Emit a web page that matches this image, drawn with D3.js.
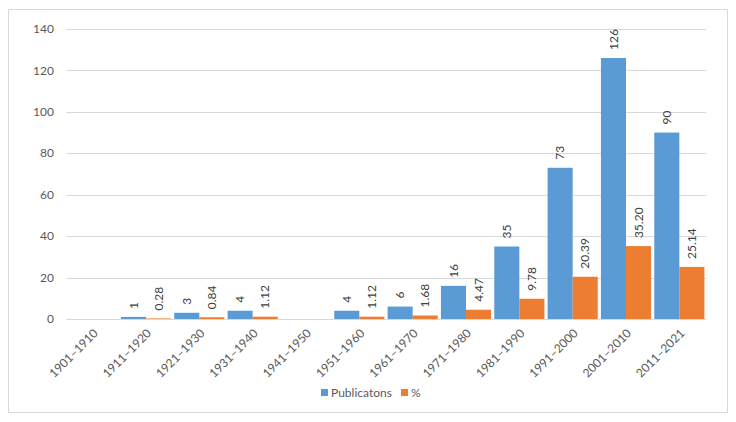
<!DOCTYPE html>
<html><head><meta charset="utf-8">
<script src="https://cdn.jsdelivr.net/npm/d3@7"></script>
<style>body{margin:0;background:#fff;}svg{display:block;font-family:Lato,"Open Sans",sans-serif;}</style>
</head><body><svg id="c" width="736" height="422"></svg>
<script>
const categories = ["1901–1910","1911–1920","1921–1930","1931–1940","1941–1950","1951–1960","1961–1970","1971–1980","1981–1990","1991–2000","2001–2010","2011–2021"];
const publications = [null,1,3,4,null,4,6,16,35,73,126,90];
const percent = [null,0.28,0.84,1.12,null,1.12,1.68,4.47,9.78,20.39,35.20,25.14];
const yTicks = [0,20,40,60,80,100,120,140];
const seriesNames = ["Publicatons","%"];
const colors = ["#5B9BD5","#ED7D31"];

const svg = d3.select("#c");
svg.append("rect").attr("x",8.5).attr("y",9.5).attr("width",719).attr("height",403)
  .attr("fill","#fff").attr("stroke","#D9D9D9");

const pL=66,pR=706,pT=29,pB=319;
const x = d3.scaleBand().domain(categories).range([pL,pR]).paddingInner(0.06).paddingOuter(0.03);
const y = d3.scaleLinear().domain([0,140]).range([pB,pT]);
const x1 = d3.scaleBand().domain([0,1]).range([0,x.bandwidth()]);

svg.append("g").selectAll("line").data(yTicks).join("line")
  .attr("x1",pL).attr("x2",pR).attr("y1",d=>Math.round(y(d))+0.5).attr("y2",d=>Math.round(y(d))+0.5)
  .attr("stroke","#D9D9D9").attr("stroke-width",1);
svg.append("g").selectAll("text").data(yTicks).join("text")
  .attr("x",54).attr("y",d=>y(d)).attr("dy","0.35em").attr("text-anchor","end")
  .attr("fill","#595959").attr("font-size",12).text(d=>d);

const series=[publications,percent];
const fmt=[d=>String(d), d=>d.toFixed(2)];
series.forEach((vals,si)=>{
  const g=svg.append("g");
  const data=vals.map((v,i)=>({c:categories[i],v})).filter(d=>d.v!==null);
  g.selectAll("rect").data(data).join("rect")
    .attr("x",d=>x(d.c)+x1(si)).attr("width",x1.bandwidth())
    .attr("y",d=>y(d.v)).attr("height",d=>pB-y(d.v))
    .attr("fill",colors[si]);
  g.selectAll("text").data(data).join("text")
    .attr("transform",d=>`translate(${x(d.c)+x1(si)+x1.bandwidth()/2},${y(d.v)-8}) rotate(-90)`)
    .attr("text-anchor","start").attr("dy","0.35em")
    .attr("fill","#404040").attr("font-size",12).text(d=>fmt[si](d.v));
});

svg.append("g").selectAll("text").data(categories).join("text")
  .attr("transform",d=>`translate(${x(d)+x.bandwidth()/2+3},${pB+12}) rotate(-45)`)
  .attr("text-anchor","end").attr("dy","0.35em")
  .attr("fill","#595959").attr("font-size",12).text(d=>d);

const lg=svg.append("g");
const legendX=[321,401];
seriesNames.forEach((n,i)=>{
  lg.append("rect").attr("x",legendX[i]).attr("y",389).attr("width",7).attr("height",7).attr("fill",colors[i]);
  lg.append("text").attr("x",legendX[i]+10).attr("y",393).attr("dy","0.35em")
    .attr("fill","#595959").attr("font-size",12).text(n);
});
</script></body></html>
